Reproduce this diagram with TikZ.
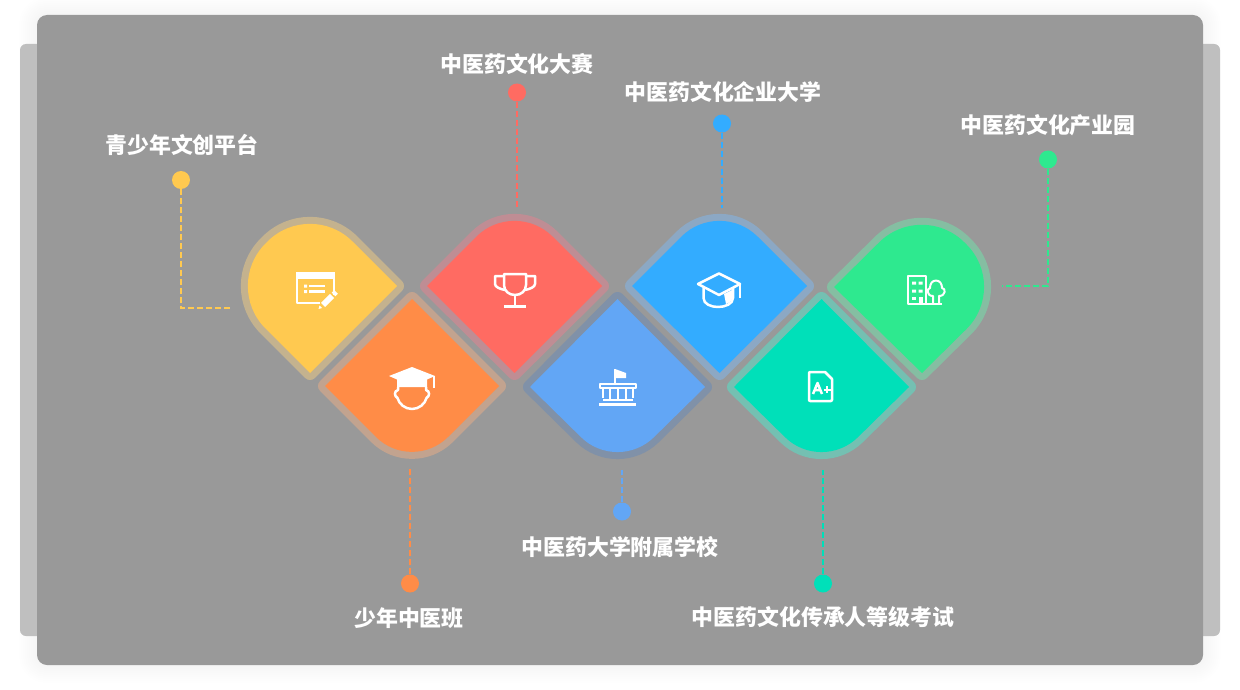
\documentclass[tikz,border=0pt]{standalone}
\usepackage{fontspec}
\newfontfamily\cjk{Noto Sans CJK SC}
\definecolor{cyellow}{HTML}{FFC950}
\definecolor{corange}{HTML}{FF8C47}
\definecolor{cred}{HTML}{FF6B62}
\definecolor{cschool}{HTML}{62A6F5}
\definecolor{cblue}{HTML}{33ACFF}
\definecolor{cteal}{HTML}{00E0B9}
\definecolor{cgreen}{HTML}{2EE98F}
\definecolor{hyellow}{HTML}{C4B28E}
\definecolor{horange}{HTML}{C2A38F}
\definecolor{hred}{HTML}{BF8D94}
\definecolor{hschool}{HTML}{8091A8}
\definecolor{hblue}{HTML}{8CA8C4}
\definecolor{hteal}{HTML}{74C0B2}
\definecolor{hgreen}{HTML}{85BEA2}
\tikzset{
  petal/.style n args={2}{fill=#1, preaction={draw=#2, line width=14pt, line join=round}},
  dotnode/.style={circle, fill=#1, minimum size=18pt, inner sep=0pt},
  lbl/.style={text=white, inner sep=0pt, font=\cjk\bfseries\fontsize{21.9}{24}\selectfont},
  link/.style={draw=#1, line width=1.6pt, dash pattern=on 6pt off 3pt},
  ico/.style={draw=white, line width=2.5pt, line join=round},
  icothin/.style={draw=white, line width=2pt, line join=round}
}
\begin{document}
\begin{tikzpicture}[x=1pt, y=-1pt]
    \useasboundingbox (0,0) rectangle (1240,690);
    % background cards
    \fill[white] (0,0) rectangle (1240,690);
    \foreach \w in {4,8,...,36}
      \draw[black, draw opacity=0.004, line width=\w pt, rounded corners=10] (37,15) rectangle (1203,665);
    \fill[black!25, rounded corners=6] (20,44) rectangle (1220,636);
    \fill[black!40, rounded corners=10] (37,15) rectangle (1203,665);

    % petals
    \path[petal={cyellow}{hyellow}] (310,373) [rounded corners=60] -- (223,286) -- (310,199) [sharp corners] -- (397,286) -- cycle;
    \path[petal={corange}{horange}] (325,386) -- (412,299) -- (499,386) [rounded corners=51] -- (412,473) [sharp corners] -- cycle;
    \path[petal={cred}{hred}] (427,286) [rounded corners=54] -- (514.5,198.5) [sharp corners] -- (602,286) -- (514.5,373) -- cycle;
    \path[petal={cschool}{hschool}] (530,387) -- (617.5,299) -- (705,387) [rounded corners=51] -- (617.5,473) [sharp corners] -- cycle;
    \path[petal={cblue}{hblue}] (632,286) [rounded corners=54] -- (719.5,198.5) [sharp corners] -- (807,286) -- (719.5,373) -- cycle;
    \path[petal={cteal}{hteal}] (734,387) -- (821.5,299) -- (909,387) [rounded corners=51] -- (821.5,473) [sharp corners] -- cycle;
    \path[petal={cgreen}{hgreen}] (834,287) [rounded corners=60] -- (922,200) -- (1009,287) [sharp corners] -- (922,373) -- cycle;

    % dots and labels
    \node[dotnode=cyellow] (dotyouth) at (181,180) {};
    \node[dotnode=cred] (dotcontest) at (517,92.5) {};
    \node[dotnode=cblue] (dotcollege) at (722,123.5) {};
    \node[dotnode=cgreen] (dotpark) at (1048,159.5) {};
    \node[dotnode=corange] (dotclass) at (410,583.5) {};
    \node[dotnode=cschool] (dotschool) at (622,511.5) {};
    \node[dotnode=cteal] (dotexam) at (823,583.5) {};
    \node[lbl] (txtyouth) at (182,145) {青少年文创平台};
    \node[lbl] (txtcontest) at (517,64) {中医药文化大赛};
    \node[lbl] (txtcollege) at (723,92) {中医药文化企业大学};
    \node[lbl] (txtpark) at (1048,125) {中医药文化产业园};
    \node[lbl] (txtclass) at (409,618) {少年中医班};
    \node[lbl] (txtschool) at (620,547) {中医药大学附属学校};
    \node[lbl] (txtexam) at (823,617) {中医药文化传承人等级考试};

    % connectors
    \coordinate (endyouth) at (230,308);
    \coordinate (endcontest) at (517,208);
    \coordinate (endcollege) at (722,208);
    \coordinate (endpark) at (1002,286);
    \coordinate (endclass) at (410,468);
    \coordinate (endschool) at (622,470);
    \coordinate (endexam) at (823,470);
    \draw[link=cyellow] (dotyouth) |- (endyouth);
    \draw[link=cred] (dotcontest) -- (endcontest);
    \draw[link=cblue] (dotcollege) -- (endcollege);
    \draw[link=cgreen] (dotpark) |- (endpark);
    \draw[link=corange] (dotclass) -- (endclass);
    \draw[link=cschool] (dotschool) -- (endschool);
    \draw[link=cteal] (dotexam) -- (endexam);

    % icon: form and pencil
    \draw[ico] (334,295) -- (334,273) -- (297,273) -- (297,303) -- (320,303);
    \fill[white] (296,272) rectangle (335,279);
    \fill[white] (304,284.5) rectangle (307,287.5) (304,290) rectangle (307,293);
    \draw[ico] (309,286) -- (325,286) (309,291.5) -- (325,291.5);
    \draw[white, line width=6pt] (323,305) -- (332,296);
    \draw[white, line width=5pt] (333.5,294.5) -- (336,292);
    \fill[white] (318.5,309) -- (319.5,305.5) -- (322,308) -- cycle;

    % icon: student with cap
    \fill[white] (412,367) -- (435,376) -- (427,379.5) -- (427,387) -- (397,387) -- (397,379.5) -- (389,376) -- cycle;
    \draw[ico] (434,376) -- (434,388);
    \draw[ico] (398,387) -- (398,390) .. controls (394,391) and (394,396) .. (397.5,398) .. controls (399,404) and (405,409) .. (412,409) .. controls (419,409) and (425,404) .. (426.5,398) .. controls (430,396) and (430,391) .. (426,390) -- (426,387);

    % icon: trophy
    \draw[ico] (504,274) -- (526,274) -- (526,285) .. controls (526,291) and (521,295) .. (515,295) .. controls (509,295) and (504,291) .. (504,285) -- cycle;
    \draw[ico] (504,276) -- (495,276) -- (495,284) .. controls (495,287) and (500,289) .. (505,290);
    \draw[ico] (526,276) -- (535,276) -- (535,284) .. controls (535,287) and (530,289) .. (525,290);
    \draw[ico] (515,295) -- (515,306) (504,306.5) -- (526,306.5);

    % icon: school building
    \draw[icothin] (614.5,384) -- (614.5,369);
    \fill[white] (615,369) -- (626,373) -- (626,378) -- (615,378) -- cycle;
    \draw[ico] (600,384) -- (636,384) -- (636,388) -- (600,388) -- cycle;
    \draw[ico] (603,389) -- (603,398);
    \draw[ico] (633,389) -- (633,398);
    \draw[ico] (610,389) -- (610,399) (618,389) -- (618,399) (626,389) -- (626,399);
    \draw[ico] (603,400) -- (633,400);
    \fill[white] (599,403) rectangle (636,406);

    % icon: mortar board
    \draw[ico] (719,273.5) -- (740,284) -- (719,295) -- (698,284) -- cycle;
    \draw[icothin] (740,285) -- (740,298);
    \draw[ico] (703.5,288) -- (703.5,298) .. controls (703.5,304) and (711,307) .. (718,307) .. controls (725,307) and (733,304) .. (733,298) -- (733,288);
    \fill[white] (724,294) -- (732,290) -- (732,299) .. controls (731,302) and (729,303) .. (726,304) -- cycle;

    % icon: graded paper
    \draw[ico] (825,372) -- (810,372) -- (809,373) -- (809,400) -- (810,401) -- (831,401) -- (832,400) -- (832,379) -- cycle;
    \draw[ico] (813,394) -- (817.5,383) -- (822,394) (814.5,390) -- (820.5,390);
    \draw[icothin] (823.5,389.5) -- (830.5,389.5) (827,386) -- (827,393);

    % icon: building and tree
    \draw[icothin] (942,303.5) -- (908,303.5) -- (908,275.5) -- (925.5,275.5) -- (925.5,303);
    \foreach \y in {281.5,289.5}
      \fill[white] (912,\y) rectangle (916,\y+3) (918.5,\y) rectangle (922.5,\y+3);
    \fill[white] (912,297) rectangle (916,300);
    \fill[white] (918.5,297) rectangle (922.5,304);
    \draw[icothin] (933,303) -- (933,296) .. controls (926,296) and (927,288) .. (930,288) .. controls (930,284) and (932,280.5) .. (936,280.5) .. controls (940,280.5) and (942,284) .. (942,288) .. controls (946,288) and (946,296) .. (939,296) -- (939,303);
\end{tikzpicture}
\end{document}
